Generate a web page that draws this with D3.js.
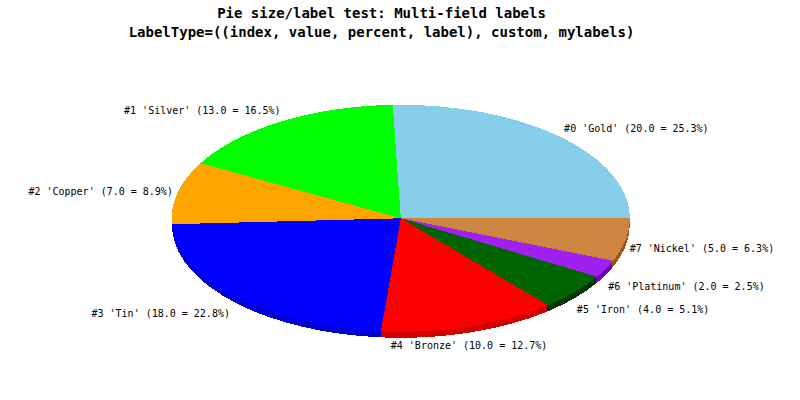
<!DOCTYPE html>
<html><head><meta charset="utf-8">
<script src="https://cdn.jsdelivr.net/npm/d3@7"></script>
<style>body{margin:0;background:#fff}</style>
</head><body>
<svg id="chart" width="800" height="400"></svg>
<script>
const titleLines = ["Pie size/label test: Multi-field labels", "LabelType=((index, value, percent, label), custom, mylabels)"];
const categories = ["Gold", "Silver", "Copper", "Tin", "Bronze", "Iron", "Platinum", "Nickel"];
const values = [20, 13, 7, 18, 10, 4, 2, 5];
const colors = ["#87CEEB", "#00FF00", "#FFA500", "#0000FF", "#FF0000", "#006400", "#A020F0", "#CD853F"];

const W = 800, H = 400;
const cx = 400.8, cy = 218.3, rx = 229, ry = 113.5, depth = 6;
const labelRx = rx + 5, labelRy = ry + 5, labelCy = cy + 2;

const svg = d3.select("#chart");
svg.append("rect").attr("width", W).attr("height", H).attr("fill", "#fff");

const data = categories.map((c, i) => ({label: c, value: values[i], index: i}));
const total = d3.sum(values);
const pie = d3.pie().value(d => d.value).sort(null)
  .startAngle(Math.PI / 2).endAngle(Math.PI / 2 - 2 * Math.PI);
// slice edges snapped to whole degrees, as the original renderer does
const snap = a => { const deg = 90 - a * 180 / Math.PI; const s = Math.ceil(deg - 1e-9); return (90 - s) * Math.PI / 180; };
const arcs = pie(data).map(a => ({...a, startAngle: snap(a.startAngle), endAngle: snap(a.endAngle), midAngle: (a.startAngle + a.endAngle) / 2}));
const arc = d3.arc().innerRadius(0).outerRadius(rx);
const color = d3.scaleOrdinal().domain(categories).range(colors);
const darken = c => { const r = d3.rgb(c); return d3.rgb(Math.max(0, r.r - 48), Math.max(0, r.g - 48), Math.max(0, r.b - 48)).formatHex(); };

// shading layers
for (let d = depth; d >= 1; d--) {
  svg.append("g")
    .attr("transform", `translate(${cx},${cy + d}) scale(1,${ry / rx})`)
    .selectAll("path").data(arcs).join("path")
    .attr("d", arc)
    .attr("fill", a => darken(color(a.data.label)))
    .attr("shape-rendering", "crispEdges");
}
// top face
svg.append("g")
  .attr("transform", `translate(${cx},${cy}) scale(1,${ry / rx})`)
  .selectAll("path").data(arcs).join("path")
  .attr("d", arc)
  .attr("fill", a => color(a.data.label))
  .attr("shape-rendering", "crispEdges");

// labels
const fmt = d3.format(".1f");
svg.append("g").selectAll("text").data(arcs).join("text")
  .each(function(a) {
    const m = a.midAngle;
    const c = Math.sin(m), s = Math.cos(m);
    const x = cx - 0.5 + labelRx * c;
    const y = labelCy - labelRy * s + (s < 0 ? depth : 0);
    const anchor = c > 0.5 ? "start" : (c < -0.5 ? "end" : "middle");
    let by;
    if (s > 0.3) by = y - 4; else if (s < -0.3) by = y + 9; else by = y + 2.6;
    d3.select(this).attr("x", x).attr("y", by).attr("text-anchor", anchor);
  })
  .attr("font-family", "DejaVu Sans Mono, monospace")
  .attr("font-size", 10)
  .attr("fill", "#000")
  .text(a => `#${a.data.index} '${a.data.label}' (${fmt(a.data.value)} = ${fmt(100 * a.data.value / total)}%)`);

// title
svg.append("g").selectAll("text").data(titleLines).join("text")
  .attr("x", 381.5)
  .attr("y", (d, i) => 18 + i * 19)
  .attr("text-anchor", "middle")
  .attr("font-family", "DejaVu Sans Mono, monospace")
  .attr("font-weight", "bold")
  .attr("font-size", 14)
  .attr("fill", "#000")
  .text(d => d);
</script>
</body></html>
